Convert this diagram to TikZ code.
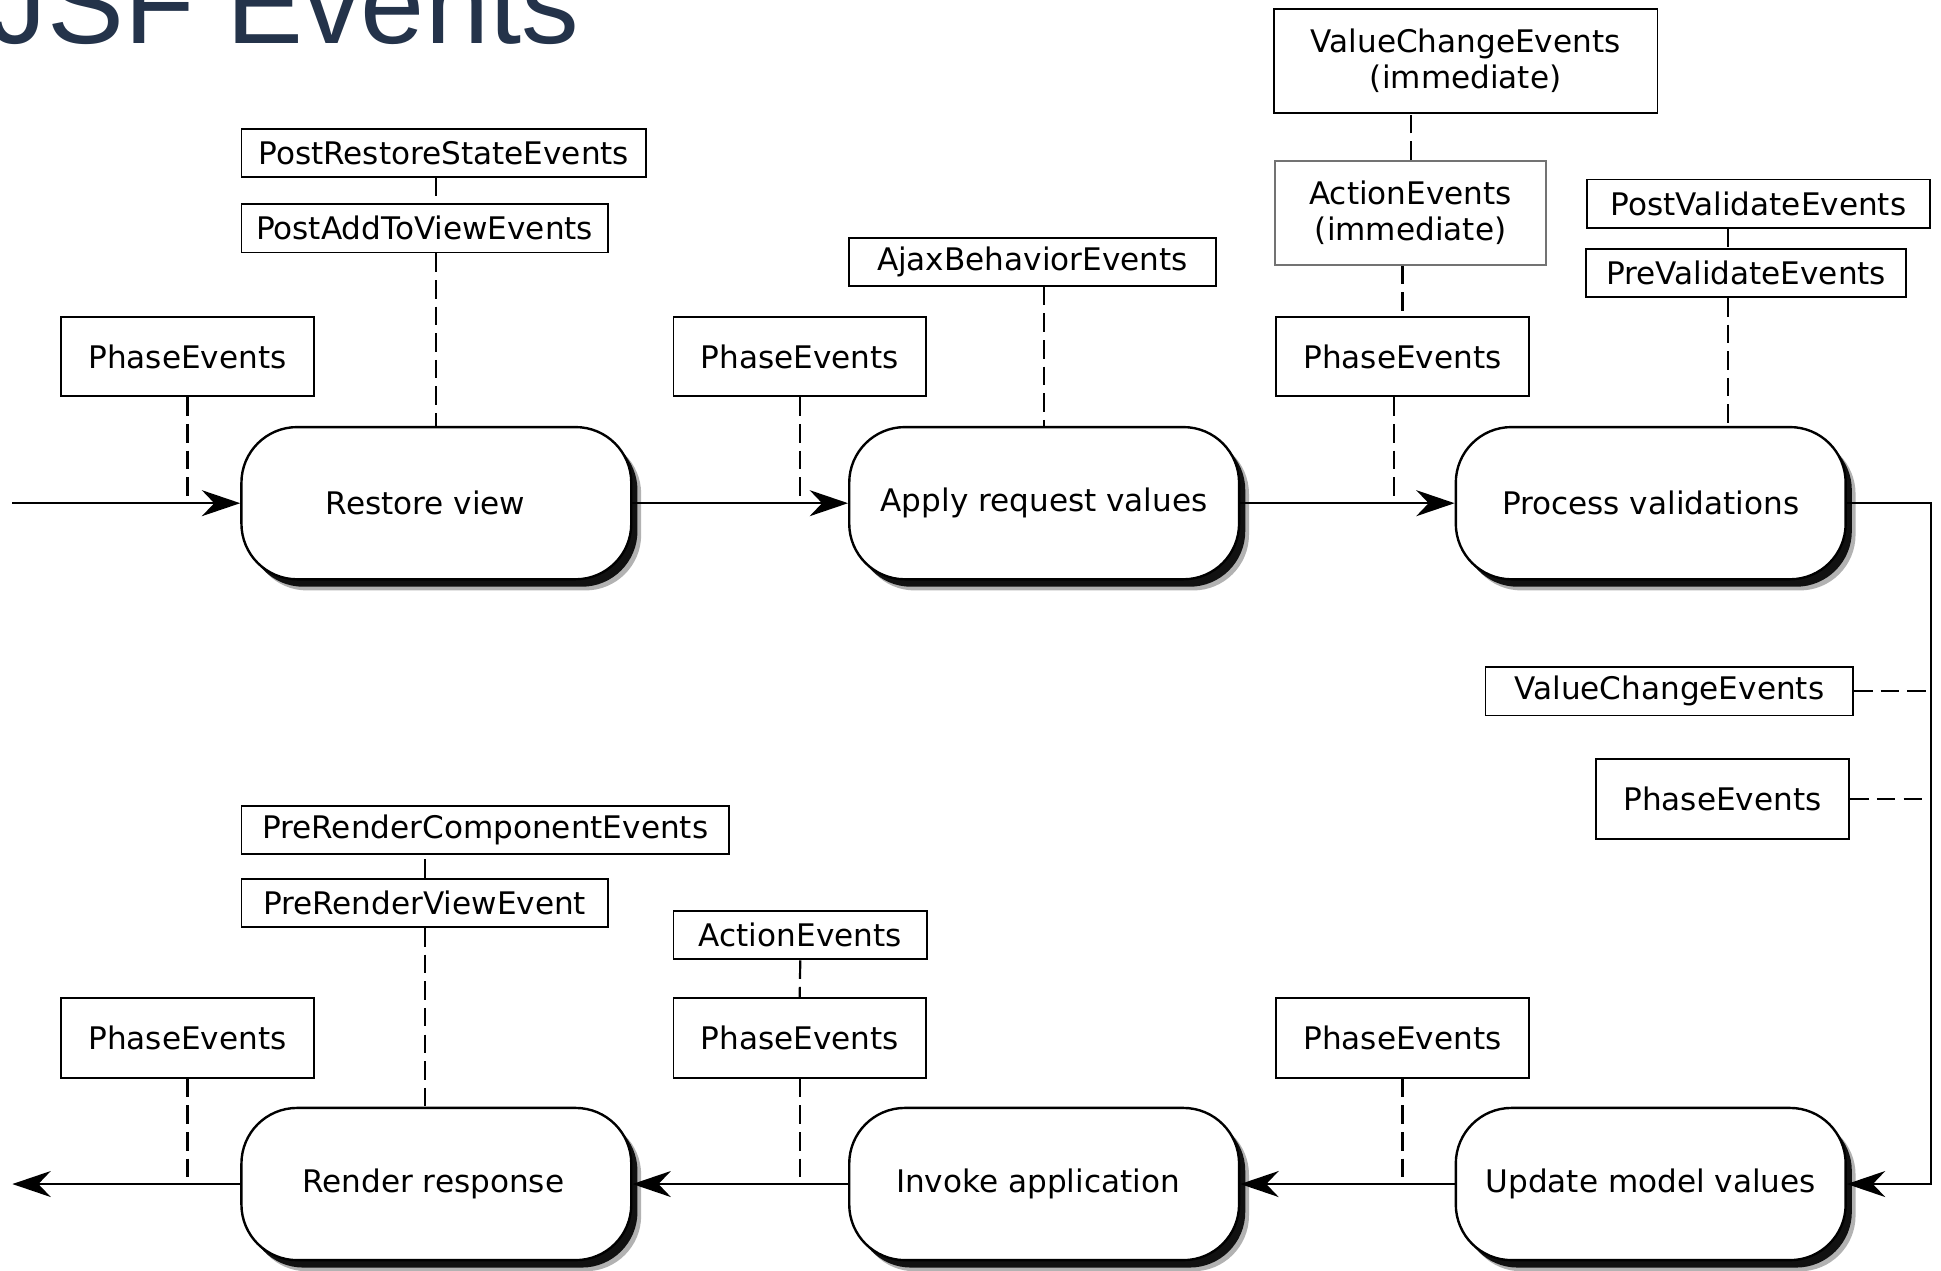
\documentclass[tikz,border=0pt]{standalone}
\usepackage{fontspec}
\setmainfont{DejaVu Sans}
\newfontfamily\titlefont{Liberation Sans}
\usetikzlibrary{positioning,arrows.meta,shadows}
\definecolor{JSFTitle}{HTML}{24334A}

\begin{document}
\begin{tikzpicture}[x=0.02cm,y=-0.02cm,
    >={Stealth[length=0.62cm,width=0.42cm,inset=0.2cm]},
    font=\fontsize{14.3}{16.5}\selectfont]
  \tikzstyle{phase}=[draw,line width=1.1pt,fill=white,rounded corners=0.9cm,
    minimum width=6.3cm,minimum height=2.46cm,align=center,
    drop shadow={shadow xshift=0.16cm,shadow yshift=-0.18cm,opacity=0.3,fill=black},
    drop shadow={shadow xshift=0.1cm,shadow yshift=-0.12cm,opacity=0.9,fill=black}]
  \tikzstyle{evt}=[draw,line width=0.85pt,fill=white,inner sep=0pt,
    align=center,minimum height=0.78cm]
  \tikzstyle{tall}=[minimum height=1.29cm]
  \tikzstyle{evline}=[line width=1pt,dash pattern=on 0.3cm off 0.13cm]
  \tikzstyle{flow}=[->,line width=0.9pt]
  \useasboundingbox (0,0) rectangle (1568,1026);

  \node[font=\titlefont\fontsize{53}{60}\selectfont,text=JSFTitle,
    anchor=base east,inner sep=0pt] (title) at (468,35) {JSF Events};

  \node[phase] (restore) at (352.5,406.5) {Restore view\hspace*{0.35cm}};
  \node[phase] (apply) at (843.5,406.5) {Apply request values};
  \node[phase] (process) at (1333.5,406.5) {Process validations};
  \node[phase] (update) at (1333.5,956.5) {Update model values};
  \node[phase] (invoke) at (843.5,956.5) {Invoke application\hspace*{0.2cm}};
  \node[phase] (render) at (352.5,956.5) {Render response\hspace*{0.1cm}};

  \coordinate (in) at (10,406.5);
  \coordinate (out) at (10,956.5);
  \coordinate (turn) at (1560,406.5);
  \coordinate (pvx) at (1396,0);

  \node[evt,tall,minimum width=4.1cm] (pe1) at (151.5,288) {PhaseEvents};
  \node[evt,minimum width=6.54cm] (prs) at (358.5,123.5) {PostRestoreStateEvents};
  \node[evt,minimum width=5.92cm] (patv) at (343,184.5) {PostAddToViewEvents};
  \node[evt,tall,minimum width=4.08cm] (pe2) at (646,288) {PhaseEvents};
  \node[evt,minimum width=5.92cm] (ajax) at (834,211.5) {AjaxBehaviorEvents};
  \node[evt,minimum width=6.2cm,minimum height=1.68cm] (vcei) at (1184,49)
    {ValueChangeEvents\\(immediate)};
  \node[evt,draw=black!55,minimum width=4.38cm,minimum height=1.68cm] (aei)
    at (1139.5,172) {ActionEvents\\(immediate)};
  \node[evt,tall,minimum width=4.08cm] (pe3) at (1133,288) {PhaseEvents};
  \node[evt,minimum width=5.54cm] (postv) at (1420.5,164.5) {PostValidateEvents};
  \node[evt,minimum width=5.18cm] (prev) at (1410.5,220.5) {PreValidateEvents};
  \node[evt,minimum width=5.94cm] (vce) at (1348.5,558.5) {ValueChangeEvents};
  \node[evt,tall,minimum width=4.1cm] (pe4) at (1391.5,645.5) {PhaseEvents};
  \node[evt,minimum width=7.88cm] (prc) at (392,670.5) {PreRenderComponentEvents};
  \node[evt,minimum width=5.92cm] (prv) at (343,729.5) {PreRenderViewEvent};
  \node[evt,tall,minimum width=4.1cm] (pe5) at (151.5,838.5) {PhaseEvents};
  \node[evt,minimum width=4.1cm] (ae) at (646.5,755.5) {ActionEvents};
  \node[evt,tall,minimum width=4.08cm] (pe6) at (646,838.5) {PhaseEvents};
  \node[evt,tall,minimum width=4.08cm] (pe7) at (1133,838.5) {PhaseEvents};

  \draw[flow] (in) -- (restore);
  \draw[flow] (restore) -- (apply);
  \draw[flow] (apply) -- (process);
  \draw[flow] (process.east) -- (turn) |- (update.east);
  \draw[flow] (update) -- (invoke);
  \draw[flow] (invoke) -- (render);
  \draw[flow] (render) -- (out);

  \draw[evline] (pe1.south) -- (pe1.south |- restore.west);
  \draw[evline] (restore.north |- prs.south) -- (restore.north |- patv.north);
  \draw[evline] (restore.north |- patv.south) -- (restore.north);
  \draw[evline] (pe2.south) -- (pe2.south |- apply.west);
  \draw[evline] (apply.north |- ajax.south) -- (apply.north);
  \draw[evline] (aei.north) -- (aei.north |- vcei.south);
  \draw[evline] (pe3.north |- aei.south) -- (pe3.north);
  \draw[evline] ([xshift=-0.14cm]pe3.south) -- ([xshift=-0.14cm]pe3.south |- process.west);
  \draw[evline] (postv.south -| pvx) -- (prev.north -| pvx);
  \draw[evline] (prev.south -| pvx) -- (process.north -| pvx);
  \draw[evline] (vce.east) -- (vce.east -| turn);
  \draw[evline] (pe4.east) -- (pe4.east -| turn);
  \draw[evline] (prv.north) -- (prv.north |- prc.south);
  \draw[evline] (prv.south) -- (prv.south |- render.north);
  \draw[evline] (pe5.south) -- (pe5.south |- render.west);
  \draw[evline] (ae.south) -- (pe6.north);
  \draw[evline] (pe6.south) -- (pe6.south |- invoke.west);
  \draw[evline] (pe7.south) -- (pe7.south |- update.west);
\end{tikzpicture}
\end{document}
